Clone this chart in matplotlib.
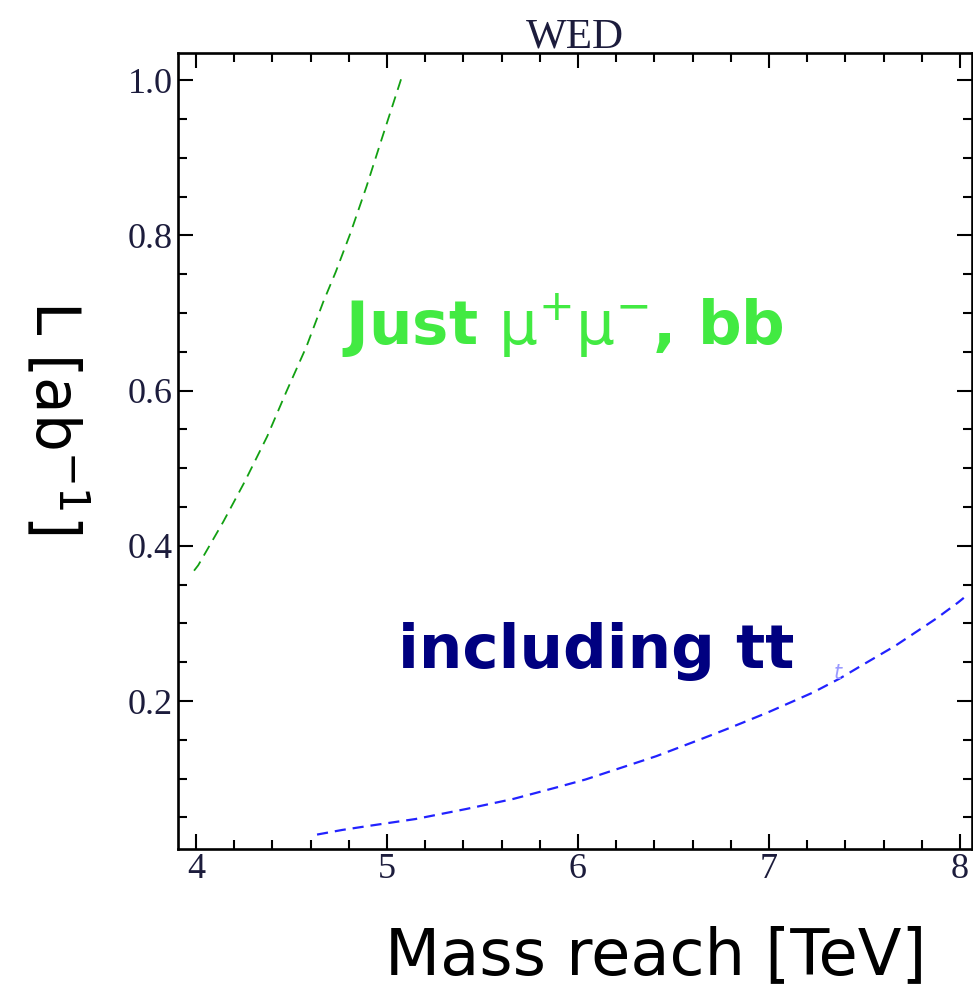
import numpy as np
import matplotlib
matplotlib.use('Agg')
import matplotlib.pyplot as plt
from matplotlib.ticker import MultipleLocator, FormatStrFormatter

# values
green_mass = [3.99, 4.012, 4.143, 4.256, 4.373, 4.474, 4.579, 4.666, 4.732,
              4.809, 4.893, 4.971, 5.050, 5.084]
green_lumi = [0.368, 0.375, 0.431, 0.483, 0.541, 0.599, 0.657, 0.714, 0.753,
              0.803, 0.863, 0.923, 0.983, 1.009]

blue_mass = [4.634, 4.767, 4.90, 5.149, 5.416, 5.663, 5.907, 6.04, 6.41, 6.634,
             6.77, 6.891, 7.0, 7.12, 7.23, 7.37, 7.5, 7.66, 7.874, 7.99, 8.02]
blue_lumi = [0.028, 0.034, 0.039, 0.048, 0.061, 0.074, 0.090, 0.099, 0.129, 0.150,
             0.163, 0.175, 0.186, 0.199, 0.211, 0.229, 0.248, 0.271, 0.306, 0.327, 0.333]

x_major = [4, 5, 6, 7, 8]
y_major = [0.2, 0.4, 0.6, 0.8, 1.0]

plt.rcParams['lines.scale_dashes'] = False
plt.rcParams['mathtext.fontset'] = 'dejavusans'

W, H = 973, 986
fig = plt.figure(figsize=(W / 100, H / 100), dpi=100)
ax = fig.add_axes([178 / W, 1 - 849 / H, (972 - 178) / W, (849 - 53) / H])

ax.plot(green_mass, green_lumi, color='#12a012', lw=1.3, dashes=(8, 5))
ax.plot(blue_mass, blue_lumi, color='#2222ff', lw=1.6, dashes=(8, 5))

ax.set_xlim(3.906, 8.063)
ax.set_ylim(0.0094, 1.035)

ax.set_xticks(x_major)
ax.set_yticks(y_major)
ax.xaxis.set_minor_locator(MultipleLocator(0.2))
ax.yaxis.set_minor_locator(MultipleLocator(0.05))
ax.yaxis.set_major_formatter(FormatStrFormatter('%.1f'))

ax.tick_params(which='both', direction='in', top=True, right=True, width=1.5,
               colors='black', labelcolor='#1c1c3c')
ax.tick_params(which='major', length=10.5)
ax.tick_params(which='minor', length=6.5)
ax.tick_params(axis='x', pad=3)
ax.tick_params(axis='y', pad=4)
for lab in ax.get_xticklabels() + ax.get_yticklabels():
    lab.set_fontfamily('Liberation Serif')
    lab.set_fontsize(26)
for sp in ax.spines.values():
    sp.set_linewidth(1.9)

# in-plot labels
ax.text(4.763, 0.659, r'Just $\mathrm{\mu}^{+}\mathrm{\mu}^{-}$, bb', color='#42ea42',
        fontsize=44, fontweight='bold', ha='left', va='baseline')
ax.text(5.058, 0.243, 'including tt', color='#000080',
        fontsize=44, fontweight='bold', ha='left', va='baseline')
ax.text(7.36, 0.228, 't', color='#9a9aff', fontsize=15, style='italic',
        ha='center', va='baseline')

# title
ax.text(0.5, 1 + 6 / 796, 'WED', transform=ax.transAxes, ha='center',
        va='baseline', fontsize=31, family='Liberation Serif', color='#1c1c3c')

# axis labels
fig.text(656 / W, 12 / H, 'Mass reach [TeV]', ha='center', va='baseline',
         fontsize=46)
fig.text(56 / W, 1 - 417 / H, r'L [ab$^{-1}$]', rotation=270, ha='center',
         va='center', fontsize=43)

fig.savefig('out.png', dpi=100)
